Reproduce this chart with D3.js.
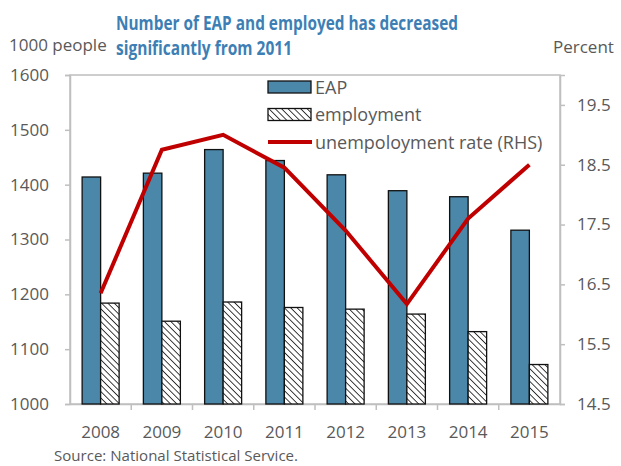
<!DOCTYPE html>
<html>
<head>
<meta charset="utf-8">
<script src="https://cdn.jsdelivr.net/npm/d3@7"></script>
<style>
  body { margin: 0; background: #fff; }
  text { font-family: "Open Sans", "Noto Sans", sans-serif; }
</style>
</head>
<body>
<div id="chart"></div>
<script>
const years = ['2008', '2009', '2010', '2011', '2012', '2013', '2014', '2015'];
const eap = [1414, 1421, 1464, 1444, 1418, 1389, 1378, 1317];
const employment = [1184, 1151, 1186, 1176, 1173, 1164, 1132, 1072];
const unemploymentRate = [16.35, 18.75, 19.0, 18.45, 17.4, 16.17, 17.6, 18.5];
const leftTicks = [1000, 1100, 1200, 1300, 1400, 1500, 1600];
const rightTicks = [14.5, 15.5, 16.5, 17.5, 18.5, 19.5];

const W = 621, H = 466;
const margin = { top: 75, right: 61, bottom: 62, left: 70 };
const width = W - margin.left - margin.right;
const height = H - margin.top - margin.bottom;
const grey = '#595959';
const axisGrey = '#bfbfbf';

const svg = d3.select('#chart').append('svg')
  .attr('width', W)
  .attr('height', H);

// hatch for employment bars
const pat = svg.append('defs').append('pattern')
  .attr('id', 'hatch')
  .attr('patternUnits', 'userSpaceOnUse')
  .attr('width', 4.5).attr('height', 4.5)
  .attr('patternTransform', 'rotate(-45)');
pat.append('rect').attr('width', 4.5).attr('height', 4.5).attr('fill', '#fff');
pat.append('line').attr('x1', 0).attr('y1', 0).attr('x2', 0).attr('y2', 4.5)
  .attr('stroke', '#000').attr('stroke-width', 1.5);

const x = d3.scaleBand().domain(years).range([0, width]);
const y = d3.scaleLinear().domain([1000, 1600]).range([height, 0]);
const y2 = d3.scaleLinear().domain([14.5, 20]).range([height, 0]);

const chart = svg.append('g')
  .attr('transform', `translate(${margin.left}, ${margin.top})`);

// frame
chart.append('rect')
  .attr('width', width).attr('height', height)
  .attr('fill', 'none').attr('stroke', axisGrey).attr('stroke-width', 1.5);

// left axis
const yAxis = chart.append('g')
  .call(d3.axisLeft(y).tickValues(leftTicks).tickSize(5).tickPadding(20).tickFormat(d3.format('d')));
// right axis
const y2Axis = chart.append('g')
  .attr('transform', `translate(${width}, 0)`)
  .call(d3.axisRight(y2).tickValues(rightTicks).tickSize(5).tickPadding(12).tickFormat(d3.format('.1f')));
// bottom axis, ticks on category boundaries
const xAxis = chart.append('g')
  .attr('transform', `translate(0, ${height})`)
  .call(d3.axisBottom(x).tickSize(0).tickPadding(22));
xAxis.selectAll('.bdry')
  .data(years.slice(1))
  .enter().append('line')
  .attr('x1', d => x(d)).attr('x2', d => x(d))
  .attr('y1', 0).attr('y2', 6)
  .attr('stroke', axisGrey).attr('stroke-width', 1.5);

[yAxis, y2Axis, xAxis].forEach(a => {
  a.select('.domain').attr('stroke', axisGrey).attr('stroke-width', 1.5);
  a.selectAll('.tick line').attr('stroke', axisGrey).attr('stroke-width', 1.5);
  a.selectAll('text').attr('fill', grey).style('font-size', '17px')
    .style('font-family', '"Open Sans", sans-serif');
});
yAxis.selectAll('text').attr('text-anchor', 'start').attr('x', -60);

// bars
const barW = 18.5;
chart.selectAll('.bar-eap')
  .data(years)
  .enter().append('rect')
  .attr('class', 'bar-eap')
  .attr('x', d => x(d) + x.bandwidth() / 2 - barW)
  .attr('y', (d, i) => y(eap[i]))
  .attr('width', barW)
  .attr('height', (d, i) => height - y(eap[i]))
  .attr('fill', '#4a87a9')
  .attr('stroke', '#111').attr('stroke-width', 1.3);

chart.selectAll('.bar-emp')
  .data(years)
  .enter().append('rect')
  .attr('class', 'bar-emp')
  .attr('x', d => x(d) + x.bandwidth() / 2)
  .attr('y', (d, i) => y(employment[i]))
  .attr('width', barW)
  .attr('height', (d, i) => height - y(employment[i]))
  .attr('fill', 'url(#hatch)')
  .attr('stroke', '#111').attr('stroke-width', 1.3);

// unemployment line
const line = d3.line()
  .x((d, i) => x(years[i]) + x.bandwidth() / 2)
  .y(d => y2(d));
chart.append('path')
  .datum(unemploymentRate)
  .attr('d', line)
  .attr('fill', 'none')
  .attr('stroke', '#c00000')
  .attr('stroke-width', 4)
  .attr('stroke-linejoin', 'miter');

// legend
const legend = svg.append('g').attr('transform', 'translate(268, 81)');
const items = [
  { label: 'EAP', type: 'eap' },
  { label: 'employment', type: 'emp' },
  { label: 'unempoloyment rate (RHS)', type: 'line' }
];
items.forEach((it, i) => {
  const g = legend.append('g').attr('transform', `translate(0, ${i * 27.5})`);
  if (it.type === 'line') {
    g.append('line').attr('x1', 0).attr('x2', 44).attr('y1', 6).attr('y2', 6)
      .attr('stroke', '#c00000').attr('stroke-width', 4);
  } else {
    g.append('rect').attr('width', 43).attr('height', 12)
      .attr('fill', it.type === 'eap' ? '#4a87a9' : 'url(#hatch)')
      .attr('stroke', '#111').attr('stroke-width', 1.3);
  }
  g.append('text').attr('x', 47).attr('y', 12.5)
    .attr('fill', grey).style('font-size', '18px')
    .text(it.label);
});

// titles
const title = svg.append('g')
  .attr('fill', '#3d7fb5')
  .style('font-size', '19px').style('font-weight', 'bold');
title.append('text').attr('x', 116).attr('y', 30)
  .attr('textLength', 342).attr('lengthAdjust', 'spacingAndGlyphs')
  .text('Number of EAP and employed has decreased');
title.append('text').attr('x', 116).attr('y', 55)
  .attr('textLength', 176).attr('lengthAdjust', 'spacingAndGlyphs')
  .text('significantly from 2011');

svg.append('text').attr('x', 9).attr('y', 51)
  .attr('fill', grey).style('font-size', '17px').text('1000 people');
svg.append('text').attr('x', 553).attr('y', 53)
  .attr('fill', grey).style('font-size', '17px').text('Percent');

svg.append('text').attr('x', 54).attr('y', 461)
  .attr('fill', grey).style('font-size', '14px')
  .attr('textLength', 244).attr('lengthAdjust', 'spacingAndGlyphs')
  .text('Source: National Statistical Service.');
</script>
</body>
</html>
